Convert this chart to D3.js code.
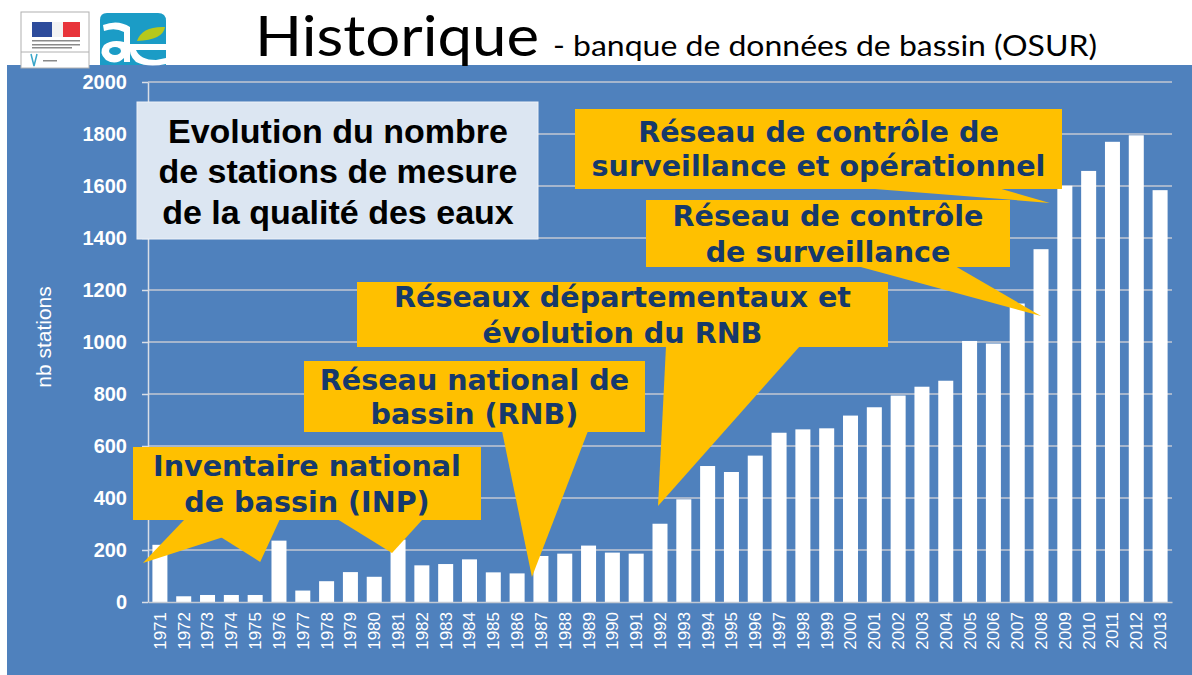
<!DOCTYPE html>
<html>
<head>
<meta charset="utf-8">
<script src="https://cdn.jsdelivr.net/npm/d3@7"></script>
<style>
  body { margin: 0; background: #ffffff; }
</style>
</head>
<body>
<div class="canvas"></div>
<script>
// data
const years = [1971, 1972, 1973, 1974, 1975, 1976, 1977, 1978, 1979, 1980,
  1981, 1982, 1983, 1984, 1985, 1986, 1987, 1988, 1989, 1990,
  1991, 1992, 1993, 1994, 1995, 1996, 1997, 1998, 1999, 2000,
  2001, 2002, 2003, 2004, 2005, 2006, 2007, 2008, 2009, 2010,
  2011, 2012, 2013];
const stations = [220, 22, 27, 27, 27, 236, 44, 80, 115, 97,
  240, 141, 146, 164, 114, 110, 177, 186, 217, 190,
  186, 301, 395, 523, 500, 563, 651, 664, 668, 717,
  749, 794, 828, 851, 1004, 994, 1148, 1357, 1601, 1658,
  1770, 1795, 1584];
const yTicks = [0, 200, 400, 600, 800, 1000, 1200, 1400, 1600, 1800, 2000];

const yLabel = 'nb stations';
const chartTitle = 'Historique';
const chartSubtitle = '- banque de données de bassin (OSUR)';
const boxLines = ['Evolution du nombre', 'de stations de mesure', 'de la qualité des eaux'];

// callouts: text, box, and which bars they point at
const callouts = [
  { lines: ['Inventaire national', 'de bassin (INP)'], box: [133, 447, 348, 73], lineGap: 36,
    pointers: [
      { base: [185, 279], year: 1971, value: 150, dx: -17 },
      { base: [192, 280], year: 1975, value: 154, dx: 5 },
      { base: [337, 423], year: 1981, value: 188, dx: -6 }
    ] },
  { lines: ['Réseau national de', 'bassin (RNB)'], box: [304, 361, 341, 71], lineGap: 34,
    pointers: [{ base: [502, 588], year: 1987, value: 96, dx: -9 }] },
  { lines: ['Réseaux départementaux et', 'évolution du RNB'], box: [357, 282, 531, 65], lineGap: 36,
    pointers: [{ base: [666, 800], year: 1992, value: 369, dx: -2 }] },
  { lines: ['Réseau de contrôle de', 'surveillance et opérationnel'], box: [575, 109, 487, 80], lineGap: 34,
    pointers: [{ base: [862, 998], year: 2009, value: 1535, dx: -15 }] },
  { lines: ['Réseau de contrôle', 'de surveillance'], box: [646, 200, 364, 67], lineGap: 36,
    pointers: [{ base: [857, 955], year: 2008, value: 1100, dx: 0 }] }
];

const width = 1192;
const height = 675;
const plot = { left: 148, right: 1172, top: 82, bottom: 602 };

const svg = d3.select('.canvas').append('svg')
  .attr('width', width).attr('height', height)
  .style('display', 'block');

// blue slide panel
svg.append('rect')
  .attr('x', 7).attr('y', 65)
  .attr('width', width - 7).attr('height', height - 65)
  .attr('fill', '#4f81bd');

// logos (rough)
const logo = svg.append('g');
logo.append('rect').attr('x', 21).attr('y', 12).attr('width', 68).attr('height', 56)
  .attr('fill', '#fff').attr('stroke', '#b0b0b0').attr('stroke-width', 1);
logo.append('rect').attr('x', 32).attr('y', 22).attr('width', 20).attr('height', 15).attr('fill', '#2d4b9b');
logo.append('rect').attr('x', 63).attr('y', 22).attr('width', 17).attr('height', 15).attr('fill', '#e8343a');
logo.append('path').attr('d', 'M52,22 L63,22 L63,37 L52,37 Z').attr('fill', '#f3f3f3');
[40, 44, 47].forEach((yy, i) => {
  logo.append('rect').attr('x', 32).attr('y', yy).attr('width', i === 2 ? 40 : 48).attr('height', 1.5).attr('fill', '#8a8a8a');
});
logo.append('line').attr('x1', 21).attr('x2', 89).attr('y1', 52).attr('y2', 52).attr('stroke', '#b0b0b0');
logo.append('path').attr('d', 'M31,54 L34,66 L37,54').attr('fill', 'none').attr('stroke', '#3aa6c9').attr('stroke-width', 1.5);
logo.append('rect').attr('x', 43).attr('y', 60).attr('width', 14).attr('height', 1.5).attr('fill', '#8a8a8a');

logo.append('path')
  .attr('d', 'M100,65 L100,20 Q100,13 107,13 L158,13 Q166,13 166,21 L166,65 Z')
  .attr('fill', '#1b9cc6');
logo.append('path')
  .attr('d', 'M103,25 Q118,19 130,27 L130,62 L124,62 L124,58 Q116,66 106,60 Q98,53 104,45 Q112,39 124,42 L124,32 Q115,27 104,31 Z')
  .attr('fill', '#fff');
logo.append('ellipse').attr('cx', 115).attr('cy', 51).attr('rx', 6).attr('ry', 4).attr('fill', '#1b9cc6');
logo.append('path')
  .attr('d', 'M130,44 L166,44 L166,50 L136,50 Q140,60 156,60 L166,58 L166,64 Q148,68 136,62 Q128,55 130,44 Z')
  .attr('fill', '#fff');
logo.append('path')
  .attr('d', 'M137,41 Q142,26 165,27 Q163,40 137,41 Z')
  .attr('fill', '#b6c81c');

// title
svg.append('text')
  .attr('x', 255).attr('y', 56)
  .attr('textLength', 284).attr('lengthAdjust', 'spacingAndGlyphs')
  .style('font-family', 'Lato, "Open Sans", sans-serif')
  .style('font-size', '56px')
  .attr('fill', '#000')
  .text(chartTitle);
svg.append('text')
  .attr('x', 553).attr('y', 56)
  .attr('textLength', 544).attr('lengthAdjust', 'spacingAndGlyphs')
  .style('font-family', 'Lato, "Open Sans", sans-serif')
  .style('font-size', '28px')
  .attr('fill', '#000')
  .text(chartSubtitle);

// scales
const x = d3.scaleBand()
  .domain(years)
  .range([plot.left, plot.right])
  .paddingInner(0.37)
  .paddingOuter(0.185);

const y = d3.scaleLinear()
  .domain([0, 2000])
  .range([plot.bottom, plot.top]);

// gridlines
svg.append('g')
  .selectAll('line')
  .data(yTicks.filter(d => d > 0))
  .join('line')
  .attr('x1', plot.left).attr('x2', plot.right)
  .attr('y1', d => y(d)).attr('y2', d => y(d))
  .attr('stroke', '#c3c9d3')
  .attr('stroke-width', 1.5);

// bars
svg.append('g')
  .selectAll('rect')
  .data(years)
  .join('rect')
  .attr('x', d => x(d))
  .attr('y', (d, i) => y(stations[i]))
  .attr('width', x.bandwidth())
  .attr('height', (d, i) => y(0) - y(stations[i]))
  .attr('fill', '#ffffff');

// y axis
const yAxis = svg.append('g')
  .attr('transform', `translate(${plot.left},0)`)
  .call(d3.axisLeft(y).tickValues(yTicks).tickFormat(d3.format('d'))
    .tickSize(6).tickPadding(15).tickSizeOuter(0));
yAxis.select('.domain').attr('stroke', '#d9dee6').attr('stroke-width', 1.5);
yAxis.selectAll('.tick line').attr('stroke', '#d9dee6').attr('stroke-width', 1.5);
yAxis.selectAll('.tick text')
  .attr('fill', '#ffffff')
  .style('font-family', '"Liberation Sans", Arial, sans-serif')
  .style('font-weight', 'bold')
  .style('font-size', '20px');

// x axis
const xAxis = svg.append('g')
  .attr('transform', `translate(0,${plot.bottom})`)
  .call(d3.axisBottom(x).tickSize(0).tickSizeOuter(0));
xAxis.select('.domain').attr('stroke', '#c3c9d3').attr('stroke-width', 1.5);
xAxis.selectAll('.tick text')
  .attr('transform', 'rotate(-90)')
  .attr('text-anchor', 'end')
  .attr('x', -10)
  .attr('y', 0)
  .attr('dy', '0.35em')
  .attr('fill', '#ffffff')
  .style('font-family', '"Liberation Sans", Arial, sans-serif')
  .style('font-size', '17px');

// y label
svg.append('text')
  .attr('transform', 'translate(51,337) rotate(-90)')
  .attr('text-anchor', 'middle')
  .attr('fill', '#ffffff')
  .style('font-family', '"Liberation Sans", Arial, sans-serif')
  .style('font-size', '21px')
  .text(yLabel);

// pale title box
svg.append('rect')
  .attr('x', 137).attr('y', 102)
  .attr('width', 401).attr('height', 137)
  .attr('fill', '#dce6f2')
  .attr('stroke', '#eef2f8').attr('stroke-width', 1);
svg.append('g')
  .selectAll('text')
  .data(boxLines)
  .join('text')
  .attr('x', 338)
  .attr('y', (d, i) => 131 + i * 40.5)
  .attr('dy', '0.35em')
  .attr('text-anchor', 'middle')
  .attr('fill', '#000')
  .style('font-family', '"Liberation Sans", Arial, sans-serif')
  .style('font-weight', 'bold')
  .style('font-size', '34px')
  .text(d => d);

// yellow callouts
callouts.forEach(c => {
  const [bx, by, bw, bh] = c.box;
  const g = svg.append('g');
  c.pointers.forEach(p => {
    const tx = x(p.year) + x.bandwidth() / 2 + p.dx;
    const ty = y(p.value);
    g.append('path')
      .attr('d', `M${p.base[0]},${by + bh - 1} L${tx},${ty} L${p.base[1]},${by + bh - 1} Z`)
      .attr('fill', '#ffc000');
  });
  g.append('rect')
    .attr('x', bx).attr('y', by)
    .attr('width', bw).attr('height', bh)
    .attr('fill', '#ffc000');
  const cy = by + bh / 2;
  g.selectAll('text')
    .data(c.lines)
    .join('text')
    .attr('x', bx + bw / 2)
    .attr('y', (d, i) => cy + (i - (c.lines.length - 1) / 2) * c.lineGap)
    .attr('dy', '0.36em')
    .attr('text-anchor', 'middle')
    .attr('fill', '#16396b')
    .style('font-family', '"DejaVu Sans", Verdana, sans-serif')
    .style('font-weight', 'bold')
    .style('font-size', '28.6px')
    .text(d => d);
});
</script>
</body>
</html>
